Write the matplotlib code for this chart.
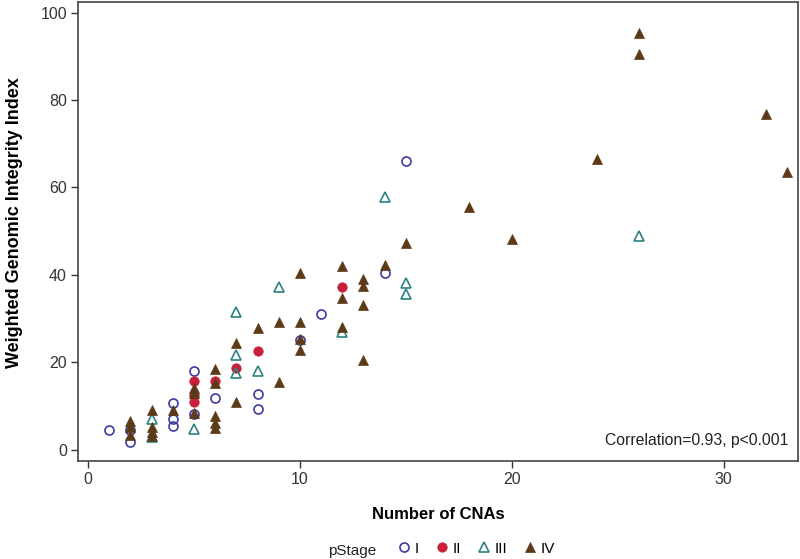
import matplotlib
matplotlib.use("Agg")
import matplotlib.pyplot as plt

plt.rcParams['font.family'] = ['Liberation Sans', 'DejaVu Sans']

# Stage I (open circles)
x_I = [1, 2, 2, 4, 4, 4, 5, 5, 6, 8, 8, 10, 11, 14, 15]
y_I = [4.4, 1.8, 4.6, 10.7, 7.0, 5.5, 18.0, 8.2, 11.7, 12.8, 9.4, 25.0, 31.0, 40.5, 66.1]

# Stage II (filled circles)
x_II = [5, 5, 5, 6, 7, 8, 12]
y_II = [15.8, 12.5, 11.0, 15.8, 18.7, 22.6, 37.1]

# Stage III (open triangles)
x_III = [3, 3, 5, 7, 7, 7, 8, 9, 12, 14, 15, 15, 26]
y_III = [7.1, 2.9, 4.8, 31.6, 21.7, 17.6, 18.0, 37.3, 26.8, 57.8, 38.2, 35.7, 48.9]

# Stage IV (filled triangles)
x_IV = [2, 2, 2, 3, 3, 3, 3, 4, 5, 5, 5, 6, 6, 6, 6, 6, 7, 7, 8, 9, 9,
        10, 10, 10, 10, 12, 12, 12, 13, 13, 13, 13, 14, 15, 18, 20, 24, 26, 26, 32, 33]
y_IV = [6.6, 5.2, 3.4, 9.1, 5.2, 4.0, 3.2, 9.1, 14.0, 13.0, 8.4, 18.5, 15.3, 7.8, 6.2, 5.0,
        24.4, 11.0, 27.8, 29.3, 15.5, 40.3, 29.3, 25.2, 22.8, 41.9, 34.6, 28.1, 39.0, 37.5,
        33.2, 20.4, 42.3, 47.2, 55.4, 48.1, 66.4, 95.4, 90.6, 76.7, 63.4]

stage_labels = ['I', 'II', 'III', 'IV']
c_I = '#3B3B9E'
c_II = '#C8203A'
c_III = '#2B8282'
c_IV = '#5C3A17'

fig = plt.figure(figsize=(8, 5.59), dpi=100)
ax = fig.add_axes([0.0975, 0.1753, 0.9, 0.8211])

ax.plot(x_I, y_I, 'o', ls='none', ms=6.5, mfc='none', mec=c_I, mew=1.2, label=stage_labels[0])
ax.plot(x_II, y_II, 'o', ls='none', ms=6.8, mfc=c_II, mec=c_II, mew=0.5, label=stage_labels[1])
ax.plot(x_III, y_III, '^', ls='none', ms=7, mfc='none', mec=c_III, mew=1.2, label=stage_labels[2])
ax.plot(x_IV, y_IV, '^', ls='none', ms=7.5, mfc=c_IV, mec=c_IV, mew=0.5, label=stage_labels[3])

ax.set_xlim(-0.47, 33.5)
ax.set_ylim(-2.6, 102.4)
ax.set_xticks([0, 10, 20, 30])
ax.set_yticks([0, 20, 40, 60, 80, 100])
ax.tick_params(direction='out', length=5, width=1, colors='#333333', labelsize=11.5,
               labelcolor='#333333', pad=3)
for s in ax.spines.values():
    s.set_color('#444444')
    s.set_linewidth(1.2)

ax.set_xlabel('Number of CNAs', fontsize=12, fontweight='bold', labelpad=14)
ax.set_ylabel('Weighted Genomic Integrity Index', fontsize=13, fontweight='bold', labelpad=2)
ax.yaxis.set_label_coords(-0.077, 0.52)

ax.text(0.987, 0.028, 'Correlation=0.93, p<0.001', transform=ax.transAxes,
        ha='right', va='bottom', fontsize=11.3, color='#222222')

fig.text(0.41, 0.002, 'pStage', fontsize=11, ha='left', va='bottom', color='#222222')
leg = fig.legend(loc='lower left', bbox_to_anchor=(0.482, -0.013), ncol=4, frameon=False,
                 fontsize=11, handletextpad=0.2, columnspacing=1.0, handlelength=1.0,
                 borderaxespad=0.3)
fig.savefig('out.png', dpi=100)
